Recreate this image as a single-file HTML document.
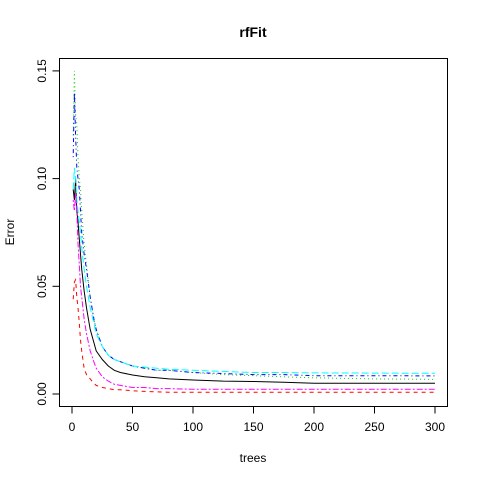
<!DOCTYPE html>
<html><head><meta charset="utf-8"><style>
body{margin:0;background:#fff}
svg text{font-family:"Liberation Sans",Arial,sans-serif;font-size:12px;fill:#000}
</style></head><body>
<svg id="chart" width="480" height="480" viewBox="0 0 480 480" xmlns="http://www.w3.org/2000/svg">
<rect width="480" height="480" fill="#fff"/>
<text x="253" y="37" text-anchor="middle" style="font-weight:bold;font-size:14px">rfFit</text>
<rect x="59.5" y="58.5" width="388" height="348" fill="none" stroke="#000"/>
<text x="253" y="462" text-anchor="middle">trees</text>
<text transform="translate(14,232) rotate(-90)" text-anchor="middle">Error</text>
<g id="axes"></g>
<g id="series"></g>
</svg>
<script>
const trees=[1,2,3,4,5,6,7,8,10,12,15,18,20,25,30,35,40,50,60,70,80,100,125,150,175,200,250,300];
const errBlack=[.095,.09,.10,.085,.08,.072,.065,.058,.048,.04,.030,.024,.020,.016,.013,.011,.010,.0088,.0080,.0075,.007,.0065,.006,.0058,.0055,.005,.005,.005];
const errRed=[.044,.052,.053,.045,.040,.033,.025,.020,.012,.009,.007,.005,.004,.003,.0025,.002,.002,.0015,.0012,.001,.0008,.0008,.0008,.0008,.0008,.0008,.0008,.0008];
const errGreen=[.12,.15,.13,.125,.11,.10,.095,.085,.070,.060,.045,.035,.030,.022,.018,.016,.015,.013,.012,.011,.011,.010,.009,.0085,.008,.0075,.007,.0068];
const errBlue=[.11,.14,.12,.105,.10,.095,.085,.075,.065,.058,.045,.035,.030,.022,.018,.016,.015,.013,.012,.011,.011,.010,.0095,.009,.009,.0085,.0085,.0084];
const errCyan=[.095,.105,.10,.09,.085,.080,.075,.068,.058,.050,.040,.033,.028,.022,.018,.016,.015,.013,.0125,.012,.0115,.011,.0105,.010,.010,.0098,.0097,.0096];
const errMagenta=[.09,.085,.093,.085,.070,.060,.050,.045,.035,.028,.020,.015,.012,.008,.006,.0045,.004,.003,.003,.0025,.0025,.0022,.0022,.0022,.0022,.0022,.0022,.0022];
const xTicks=[0,50,100,150,200,250,300];
const yTicks=[0,0.05,0.10,0.15];
const yTickLabels=["0.00","0.05","0.10","0.15"];

const NS="http://www.w3.org/2000/svg";
const xs=t=>72+1.21*t;
const ys=v=>394-2154*v;
const axes=document.getElementById('axes');
function mk(tag,attrs,parent){const e=document.createElementNS(NS,tag);for(const k in attrs)e.setAttribute(k,attrs[k]);parent.appendChild(e);return e;}
mk('line',{x1:xs(0),x2:xs(300),y1:406.5,y2:406.5,stroke:'#000'},axes);
xTicks.forEach(t=>{
  const l=mk('line',{x1:xs(t),x2:xs(t),y1:406.5,y2:413.5,stroke:'#000'},axes);
  
  
  const tx=mk('text',{x:xs(t),y:431,'text-anchor':'middle'},axes);
  tx.textContent=t;
  
  
});
mk('line',{x1:59.5,x2:59.5,y1:ys(0),y2:ys(0.15),stroke:'#000'},axes);
yTicks.forEach((v,i)=>{
  const l=mk('line',{x1:52.5,x2:59.5,y1:ys(v),y2:ys(v),stroke:'#000'},axes);
  
  
  const tx=mk('text',{transform:`translate(46,${ys(v)}) rotate(-90)`,'text-anchor':'middle'},axes);
  tx.textContent=yTickLabels[i];
  
  
});
const series=[
  ['oob-error-line',errBlack,'#000',''],
  ['class1-error-line',errRed,'#f00','4,4'],
  ['class2-error-line',errGreen,'#0c0','1,3'],
  ['class3-error-line',errBlue,'#00f','1,3,4,3'],
  ['class4-error-line',errCyan,'#0ff','7,3'],
  ['class5-error-line',errMagenta,'#f0f','2,2,6,2']
];
const sg=document.getElementById('series');
series.forEach(([name,vals,col,dash])=>{
  const d=vals.map((v,i)=>(i?'L':'M')+xs(trees[i]).toFixed(1)+','+ys(v).toFixed(1)).join('');
  const p=mk('path',{d:d,fill:'none',stroke:col,'stroke-width':1,'stroke-dasharray':dash},sg);
  
  
});
</script>
</body></html>
